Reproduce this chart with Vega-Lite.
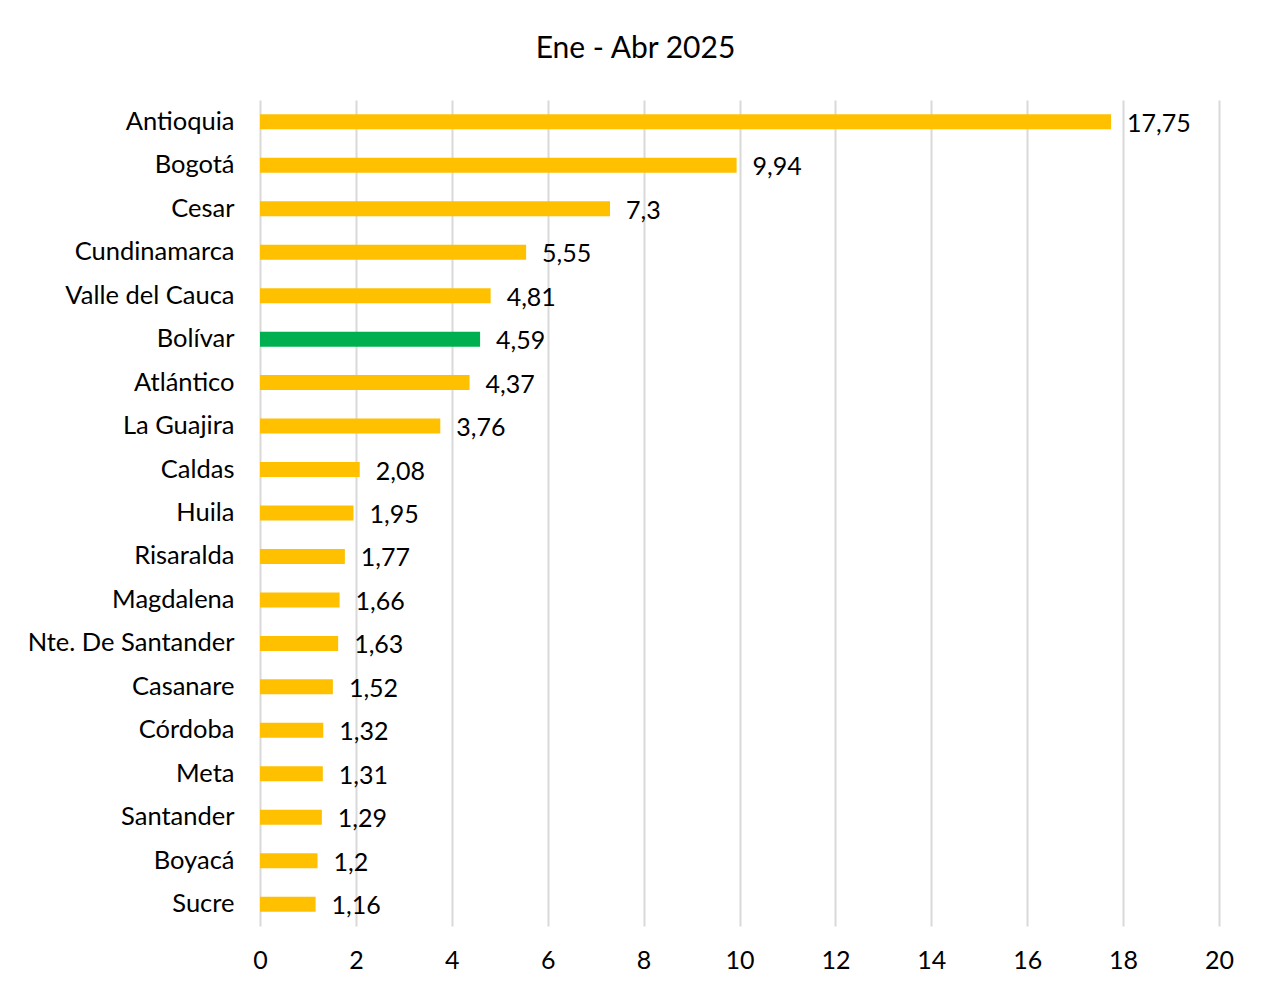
{
  "$schema": "https://vega.github.io/schema/vega-lite/v6.json",
  "autosize": {"type": "none"},
  "width": 959,
  "height": 826,
  "padding": {"left": 260, "top": 100, "right": 50, "bottom": 66},
  "background": "white",
  "config": {
    "font": "Lato",
    "view": {"stroke": null},
    "axis": {"labelFont": "Lato", "labelColor": "#000000"}
  },
  "title": {
    "text": "Ene - Abr 2025",
    "fontSize": 30,
    "fontWeight": "normal",
    "font": "Lato",
    "color": "#000000",
    "anchor": "middle",
    "dx": -104,
    "offset": 36
  },
  "data": {
    "values": [
      {"depto": "Antioquia", "valor": 17.75, "etiqueta": "17,75", "grupo": "otro"},
      {"depto": "Bogotá", "valor": 9.94, "etiqueta": "9,94", "grupo": "otro"},
      {"depto": "Cesar", "valor": 7.3, "etiqueta": "7,3", "grupo": "otro"},
      {"depto": "Cundinamarca", "valor": 5.55, "etiqueta": "5,55", "grupo": "otro"},
      {"depto": "Valle del Cauca", "valor": 4.81, "etiqueta": "4,81", "grupo": "otro"},
      {"depto": "Bolívar", "valor": 4.59, "etiqueta": "4,59", "grupo": "Bolívar"},
      {"depto": "Atlántico", "valor": 4.37, "etiqueta": "4,37", "grupo": "otro"},
      {"depto": "La Guajira", "valor": 3.76, "etiqueta": "3,76", "grupo": "otro"},
      {"depto": "Caldas", "valor": 2.08, "etiqueta": "2,08", "grupo": "otro"},
      {"depto": "Huila", "valor": 1.95, "etiqueta": "1,95", "grupo": "otro"},
      {"depto": "Risaralda", "valor": 1.77, "etiqueta": "1,77", "grupo": "otro"},
      {"depto": "Magdalena", "valor": 1.66, "etiqueta": "1,66", "grupo": "otro"},
      {"depto": "Nte. De Santander", "valor": 1.63, "etiqueta": "1,63", "grupo": "otro"},
      {"depto": "Casanare", "valor": 1.52, "etiqueta": "1,52", "grupo": "otro"},
      {"depto": "Córdoba", "valor": 1.32, "etiqueta": "1,32", "grupo": "otro"},
      {"depto": "Meta", "valor": 1.31, "etiqueta": "1,31", "grupo": "otro"},
      {"depto": "Santander", "valor": 1.29, "etiqueta": "1,29", "grupo": "otro"},
      {"depto": "Boyacá", "valor": 1.2, "etiqueta": "1,2", "grupo": "otro"},
      {"depto": "Sucre", "valor": 1.16, "etiqueta": "1,16", "grupo": "otro"}
    ]
  },
  "encoding": {
    "y": {
      "field": "depto",
      "type": "nominal",
      "sort": null,
      "title": null,
      "scale": {"paddingInner": 0.655, "paddingOuter": 0.33},
      "axis": {
        "ticks": false,
        "domain": false,
        "labelFontSize": 25.5,
        "labelLimit": 400,
        "labelPadding": 26,
        "labelColor": "#000000"
      }
    },
    "x": {
      "field": "valor",
      "type": "quantitative",
      "title": null,
      "scale": {"domain": [0, 20], "nice": false},
      "axis": {
        "values": [0, 2, 4, 6, 8, 10, 12, 14, 16, 18, 20],
        "ticks": false,
        "domain": false,
        "grid": true,
        "gridColor": "#D9D9D9",
        "gridWidth": 2,
        "labelFlush": false,
        "labelFontSize": 25,
        "labelPadding": 22,
        "labelColor": "#000000"
      }
    }
  },
  "layer": [
    {
      "mark": {"type": "bar"},
      "encoding": {
        "color": {
          "field": "grupo",
          "type": "nominal",
          "scale": {"domain": ["otro", "Bolívar"], "range": ["#FFC000", "#00B050"]},
          "legend": null
        }
      }
    },
    {
      "mark": {"type": "text", "align": "left", "baseline": "middle", "dx": 16, "dy": 2, "fontSize": 25, "font": "Lato", "color": "#000000"},
      "encoding": {
        "text": {"field": "etiqueta", "type": "nominal"}
      }
    }
  ]
}
